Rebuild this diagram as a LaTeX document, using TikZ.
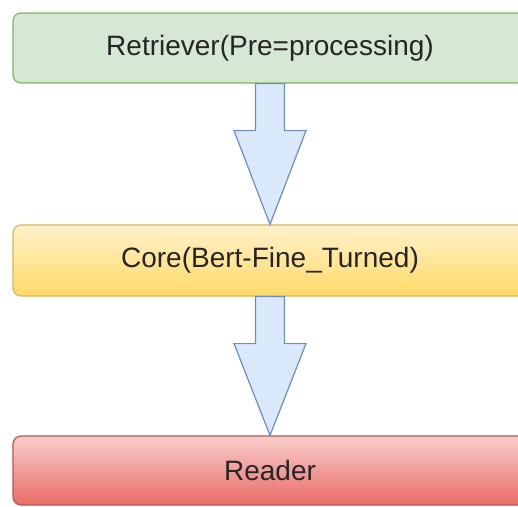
\documentclass[tikz,border=0pt]{standalone}
\usepackage{fontspec}
\setmainfont{Liberation Sans}
\usetikzlibrary{calc}
\definecolor{gfill}{HTML}{D5E8D4}
\definecolor{gline}{HTML}{82B366}
\definecolor{ytop}{HTML}{FFF2CC}
\definecolor{ybot}{HTML}{FFD966}
\definecolor{yline}{HTML}{D6B656}
\definecolor{rtop}{HTML}{F8CECC}
\definecolor{rbot}{HTML}{EA6B66}
\definecolor{rline}{HTML}{B85450}
\definecolor{afill}{HTML}{DAE8FC}
\definecolor{aline}{HTML}{6C8EBF}
\definecolor{txt}{HTML}{262626}
\begin{document}
\begin{tikzpicture}[x=1pt,y=1pt,
  box/.style={rounded corners=8pt, minimum width=514pt, minimum height=70pt,
    line width=1.2pt, inner sep=0pt, text=txt,
    font=\fontsize{28}{32}\selectfont},
  blockarrow/.style={fill=afill, draw=aline, line width=1.2pt, line join=miter}]
\useasboundingbox (0,0) rectangle (518,-506);
\clip (0,0) rectangle (518,-506);
\node[box, fill=gfill, draw=gline] (ret) at (270,-48) {Retriever(Pre=processing)};
\node[box, top color=ytop, bottom color=ybot, draw=yline, minimum height=71pt] (core) at (270,-260.5) {Core(Bert-Fine\_Turned)};
\node[box, top color=rtop, bottom color=rbot, draw=rline, minimum height=69pt] (read) at (270,-470.5) {Reader};
\draw[blockarrow] ($(ret.south)+(-14.5,0)$) -- ($(ret.south)+(-14.5,-47)$)
  -- ($(ret.south)+(-36,-47)$) -- (core.north) -- ($(ret.south)+(36,-47)$)
  -- ($(ret.south)+(14.5,-47)$) -- ($(ret.south)+(14.5,0)$) -- cycle;
\draw[blockarrow] ($(core.south)+(-14.5,0)$) -- ($(core.south)+(-14.5,-47)$)
  -- ($(core.south)+(-36,-47)$) -- (read.north) -- ($(core.south)+(36,-47)$)
  -- ($(core.south)+(14.5,-47)$) -- ($(core.south)+(14.5,0)$) -- cycle;
\end{tikzpicture}
\end{document}
